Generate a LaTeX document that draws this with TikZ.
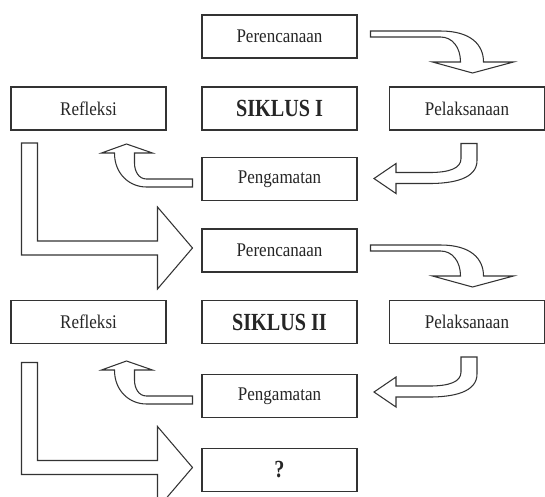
\documentclass[tikz,border=0pt]{standalone}
\usepackage{fontspec}
\setmainfont[FakeStretch=0.88]{Liberation Serif}
\newfontfamily\siklusfont[FakeStretch=0.82]{Liberation Serif}
\usepackage{tikz}
\usetikzlibrary{positioning}
\tikzset{
    blockarrow/.style = {draw=black!80, line width=0.6pt, fill=white, line join=miter},
    curvedown/.pic = {
        \draw[blockarrow] (13,-5.5) -- (83,-5.5) .. controls (113,-5.5) and (126,8) .. (126,25.5)
            -- (156,25.5) -- (115,36.5) -- (75,25.5) -- (103,25.5)
            .. controls (103,11) and (95,0.5) .. (83,0.5) -- (13,0.5) -- cycle;
    },
    curveleft/.pic = {
        \draw[blockarrow] (-6,13) -- (10,13) -- (10,30) .. controls (10,48) and (-13,53) .. (-38,53)
            -- (-71,53) -- (-71,63) -- (-93,48) -- (-71,33) -- (-71,42) -- (-38,42)
            .. controls (-18,42) and (-6,38) .. (-6,28) -- cycle;
    },
    curveup/.pic = {
        \draw[blockarrow] (-9,0) -- (-55,0) .. controls (-63,0) and (-67,-8) .. (-67,-16) -- (-67,-26)
            -- (-49,-26) -- (-75,-35) -- (-100,-26) -- (-87,-26)
            .. controls (-87,-5) and (-72,8) .. (-55,8) -- (-9,8) -- cycle;
    },
    bigarrow/.pic = {
        \draw[blockarrow] (-180,-107.5) -- (-164,-107.5) -- (-164,-9.5) -- (-44,-9.5) -- (-44,-43.5)
            -- (-9,-2.5) -- (-44,38.5) -- (-44,4.5) -- (-180,4.5) -- cycle;
    },
}
\begin{document}
\begin{tikzpicture}[
	x=0.02cm,
	y=-0.02cm,
	font=\fontsize{11}{13}\selectfont
]
\tikzset{
    mybox/.style = {rectangle, draw=black!80, line width=0.6pt, fill=white, text=black!85,
        minimum width=3.1cm, minimum height=0.86cm},
    myboxb/.style = {mybox, font=\siklusfont\bfseries\fontsize{14}{16}\selectfont},
}
\clip (0,0) rectangle (545,497);
\fill[white] (0,0) rectangle (545,497);
% siklus I
\node[mybox] at (279.5,36.5) (per1) {Perencanaan};
\node[mybox] at (88.5,108.5) (ref1) {Refleksi};
\node[myboxb] at (279.5,108.5) (sik1) {SIKLUS I};
\node[mybox] at (467,108.5) (pel1) {Pelaksanaan};
\node[mybox] at (279.5,179) (pen1) {Pengamatan};
% siklus II
\node[mybox] at (279.5,250.5) (per2) {Perencanaan};
\node[mybox] at (88.5,322) (ref2) {Refleksi};
\node[myboxb] at (279.5,322) (sik2) {SIKLUS II};
\node[mybox] at (467,322) (pel2) {Pelaksanaan};
\node[mybox] at (279.5,396) (pen2) {Pengamatan};
\node[myboxb] at (279.5,470) (q) {?};
%
\pic at (per1.east) {curvedown};
\pic at (pel1.south) {curveleft};
\pic at (pen1.west) {curveup};
\pic at (per2.west) {bigarrow};
%
\pic at (per2.east) {curvedown};
\pic at (pel2.south) {curveleft};
\pic at (pen2.west) {curveup};
\pic at (q.west) {bigarrow};
\end{tikzpicture}
\end{document}
